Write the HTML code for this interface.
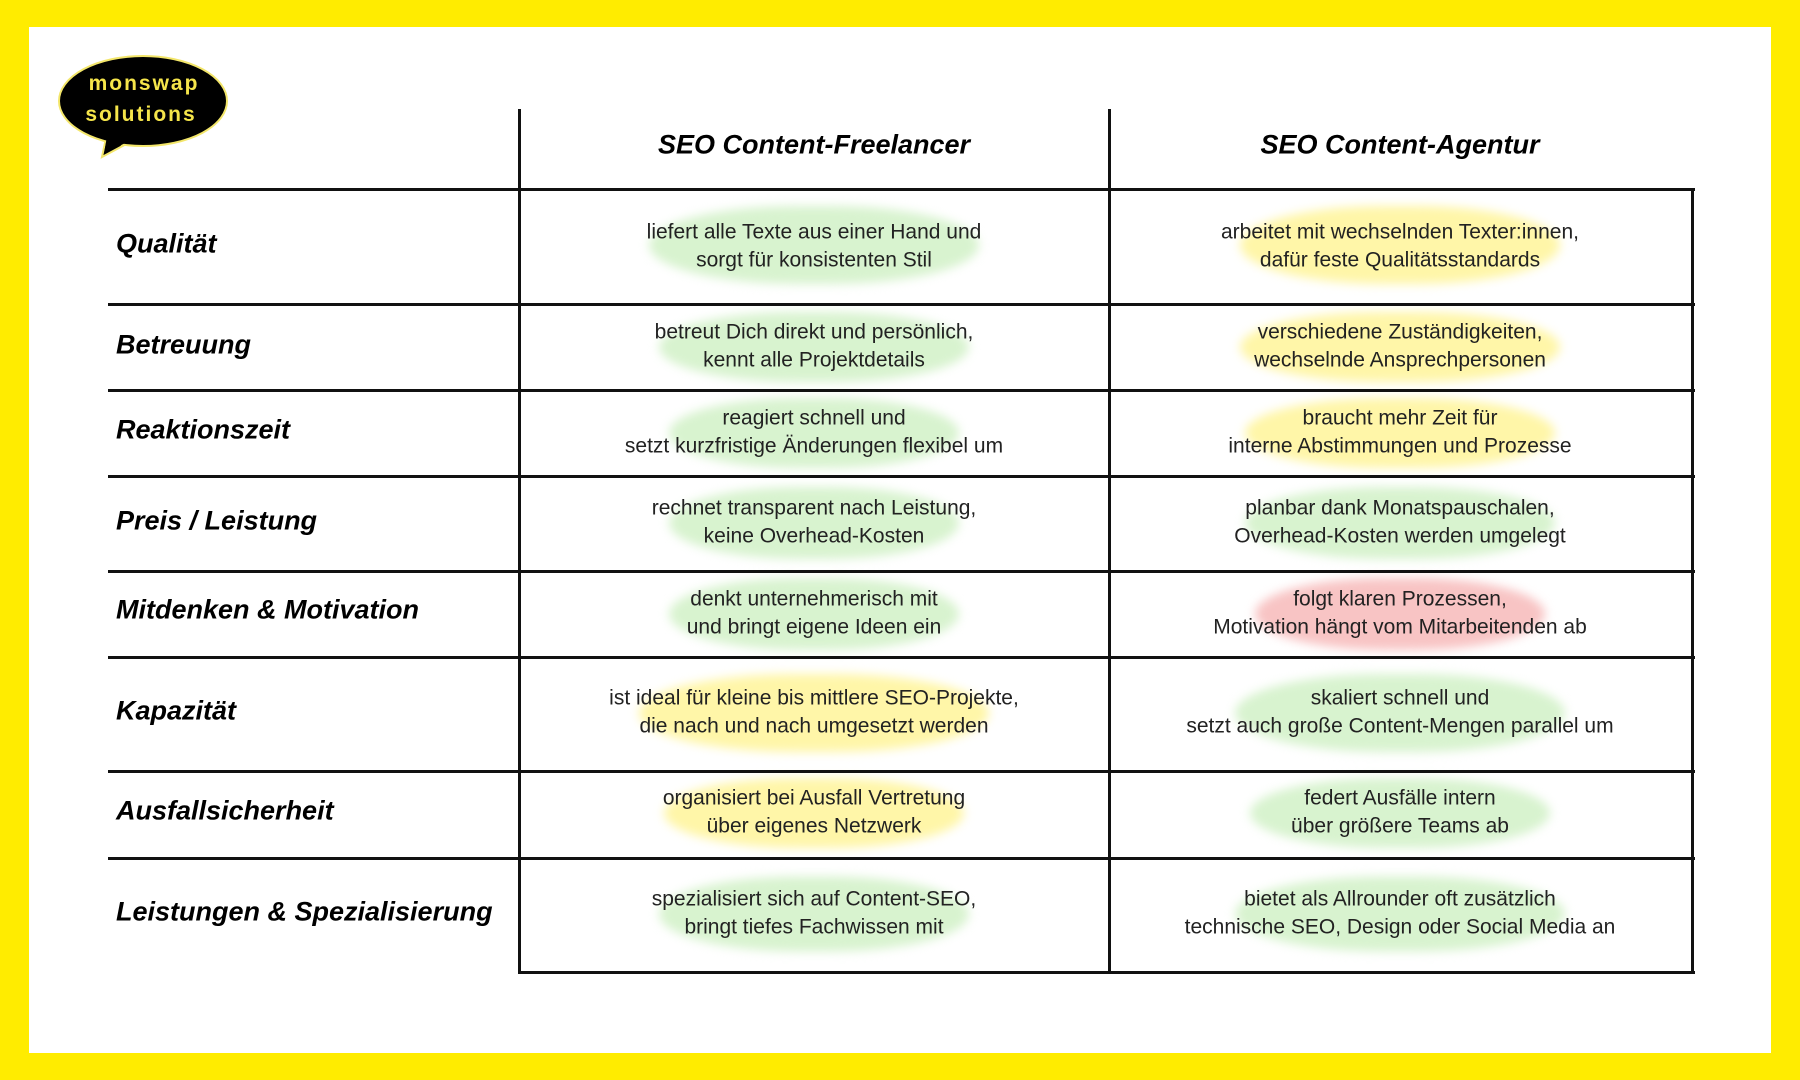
<!DOCTYPE html>
<html><head><meta charset="utf-8"><style>
*{margin:0;padding:0;box-sizing:border-box}
body{width:1800px;height:1080px;background:#ffec00;position:relative;overflow:hidden;font-family:"Liberation Sans",sans-serif}
.page{position:absolute;left:29px;top:27px;width:1742px;height:1026px;background:#fff}
.h{position:absolute;height:3px;background:#111}
.v{position:absolute;width:3px;background:#111}
.lab{position:absolute;left:116px;font-weight:bold;font-style:italic;font-size:27px;color:#000;transform:translateY(-50%)}
.hd{position:absolute;font-weight:bold;font-style:italic;font-size:27px;transform:translate(-50%,-50%);white-space:nowrap}
.cell{position:absolute;width:580px;text-align:center;font-size:21px;line-height:27.5px;color:#222;transform:translate(-50%,-50%)}
.br{position:absolute;border-radius:45%/50%;filter:blur(5px);transform:translate(-50%,-50%)}
.g{background:#d8f3cf}.y{background:#fff6a8}.r{background:#f8c4c4}
</style></head><body>
<div class="page"></div>
<svg style="position:absolute;left:50px;top:50px" width="190" height="115">
<path d="M56 88 L52 107 L80 92 Z" fill="#000" stroke="#f3e66a" stroke-width="2"/>
<ellipse cx="93" cy="51" rx="84" ry="45" fill="#000" stroke="#f3e66a" stroke-width="2"/>
<path d="M57 86 L54 104 L79 91 Z" fill="#000"/>
<text x="94" y="40" text-anchor="middle" font-family="Liberation Sans" font-weight="bold" font-size="21" fill="#f5e54a" letter-spacing="2">monswap</text>
<text x="91" y="71" text-anchor="middle" font-family="Liberation Sans" font-weight="bold" font-size="21" fill="#f5e54a" letter-spacing="2">solutions</text>
</svg>
<!-- highlights -->
<div class="br g" style="left:814px;top:245px;width:330px;height:78px"></div>
<div class="br g" style="left:814px;top:347px;width:310px;height:70px"></div>
<div class="br g" style="left:814px;top:433px;width:290px;height:70px"></div>
<div class="br g" style="left:814px;top:523px;width:290px;height:72px"></div>
<div class="br g" style="left:814px;top:614px;width:290px;height:72px"></div>
<div class="br y" style="left:814px;top:713px;width:350px;height:78px"></div>
<div class="br y" style="left:814px;top:813px;width:300px;height:70px"></div>
<div class="br g" style="left:814px;top:914px;width:310px;height:75px"></div>
<div class="br y" style="left:1400px;top:245px;width:320px;height:78px"></div>
<div class="br y" style="left:1400px;top:347px;width:320px;height:70px"></div>
<div class="br y" style="left:1400px;top:433px;width:310px;height:70px"></div>
<div class="br g" style="left:1400px;top:523px;width:310px;height:72px"></div>
<div class="br r" style="left:1400px;top:614px;width:290px;height:72px"></div>
<div class="br g" style="left:1400px;top:713px;width:330px;height:78px"></div>
<div class="br g" style="left:1400px;top:813px;width:300px;height:70px"></div>
<div class="br g" style="left:1400px;top:914px;width:330px;height:75px"></div>
<!-- grid -->
<div class="h" style="left:108px;width:1587px;top:188px"></div>
<div class="h" style="left:108px;width:1587px;top:303px"></div>
<div class="h" style="left:108px;width:1587px;top:389px"></div>
<div class="h" style="left:108px;width:1587px;top:475px"></div>
<div class="h" style="left:108px;width:1587px;top:570px"></div>
<div class="h" style="left:108px;width:1587px;top:656px"></div>
<div class="h" style="left:108px;width:1587px;top:770px"></div>
<div class="h" style="left:108px;width:1587px;top:857px"></div>
<div class="h" style="left:518px;width:1177px;top:971px"></div>
<div class="v" style="left:518px;top:109px;height:865px"></div>
<div class="v" style="left:1108px;top:109px;height:865px"></div>
<div class="v" style="left:1691px;top:188px;height:786px"></div>
<div class="hd" style="left:814px;top:145px">SEO Content-Freelancer</div>
<div class="hd" style="left:1400px;top:145px">SEO Content-Agentur</div>
<div class="lab" style="top:244px">Qualität</div>
<div class="lab" style="top:345px">Betreuung</div>
<div class="lab" style="top:430px">Reaktionszeit</div>
<div class="lab" style="top:521px">Preis / Leistung</div>
<div class="lab" style="top:610px">Mitdenken &amp; Motivation</div>
<div class="lab" style="top:711px">Kapazität</div>
<div class="lab" style="top:811px">Ausfallsicherheit</div>
<div class="lab" style="top:912px">Leistungen &amp; Spezialisierung</div>
<div class="cell" style="left:814px;top:246px">liefert alle Texte aus einer Hand und<br>sorgt für konsistenten Stil</div>
<div class="cell" style="left:814px;top:346px">betreut Dich direkt und persönlich,<br>kennt alle Projektdetails</div>
<div class="cell" style="left:814px;top:432px">reagiert schnell und<br>setzt kurzfristige Änderungen flexibel um</div>
<div class="cell" style="left:814px;top:522px">rechnet transparent nach Leistung,<br>keine Overhead-Kosten</div>
<div class="cell" style="left:814px;top:613px">denkt unternehmerisch mit<br>und bringt eigene Ideen ein</div>
<div class="cell" style="left:814px;top:712px">ist ideal für kleine bis mittlere SEO-Projekte,<br>die nach und nach umgesetzt werden</div>
<div class="cell" style="left:814px;top:812px">organisiert bei Ausfall Vertretung<br>über eigenes Netzwerk</div>
<div class="cell" style="left:814px;top:913px">spezialisiert sich auf Content-SEO,<br>bringt tiefes Fachwissen mit</div>
<div class="cell" style="left:1400px;top:246px">arbeitet mit wechselnden Texter:innen,<br>dafür feste Qualitätsstandards</div>
<div class="cell" style="left:1400px;top:346px">verschiedene Zuständigkeiten,<br>wechselnde Ansprechpersonen</div>
<div class="cell" style="left:1400px;top:432px">braucht mehr Zeit für<br>interne Abstimmungen und Prozesse</div>
<div class="cell" style="left:1400px;top:522px">planbar dank Monatspauschalen,<br>Overhead-Kosten werden umgelegt</div>
<div class="cell" style="left:1400px;top:613px">folgt klaren Prozessen,<br>Motivation hängt vom Mitarbeitenden ab</div>
<div class="cell" style="left:1400px;top:712px">skaliert schnell und<br>setzt auch große Content-Mengen parallel um</div>
<div class="cell" style="left:1400px;top:812px">federt Ausfälle intern<br>über größere Teams ab</div>
<div class="cell" style="left:1400px;top:913px">bietet als Allrounder oft zusätzlich<br>technische SEO, Design oder Social Media an</div>
</body></html>
